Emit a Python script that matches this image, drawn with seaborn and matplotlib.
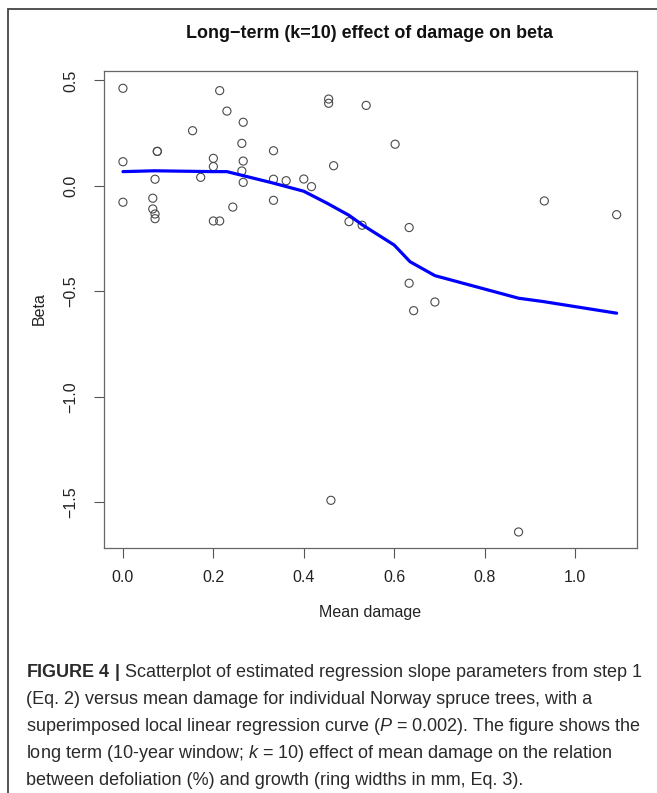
import matplotlib
matplotlib.use("Agg")
import matplotlib.pyplot as plt
import pandas as pd
import seaborn as sns
from matplotlib.patches import Rectangle

# scatter points
mean_damage = [0.000, 0.000, 0.000, 0.076, 0.076, 0.071, 0.066, 0.066, 0.071, 0.071,
               0.154, 0.172, 0.200, 0.200, 0.200, 0.214, 0.214, 0.230, 0.243, 0.266,
               0.263, 0.266, 0.263, 0.266, 0.333, 0.333, 0.361, 0.333, 0.455, 0.455,
               0.538, 0.602, 0.466, 0.400, 0.417, 0.500, 0.529, 0.633, 0.633, 0.690,
               0.643, 0.932, 1.092, 0.460, 0.875]
beta = [0.463, 0.115, -0.077, 0.164, 0.164, 0.032, -0.058, -0.109, -0.133, -0.155,
        0.262, 0.041, 0.131, 0.092, -0.166, -0.166, 0.452, 0.355, -0.100, 0.302,
        0.202, 0.118, 0.071, 0.017, 0.167, 0.032, 0.025, -0.068, 0.412, 0.392,
        0.382, 0.198, 0.096, 0.033, -0.003, -0.169, -0.186, -0.197, -0.461, -0.550,
        -0.591, -0.071, -0.136, -1.490, -1.640]

# local linear regression curve
fit_x = [0.0, 0.07, 0.20, 0.23, 0.33, 0.40, 0.45, 0.50, 0.53, 0.60, 0.635, 0.69, 0.875, 0.93, 1.092]
fit_y = [0.068, 0.072, 0.068, 0.068, 0.015, -0.025, -0.080, -0.139, -0.185, -0.280, -0.359, -0.425, -0.532, -0.548, -0.603]

xticks = [0.0, 0.2, 0.4, 0.6, 0.8, 1.0]
yticks = [0.5, 0.0, -0.5, -1.0, -1.5]

sns.set_style("white")
plt.rcParams["font.family"] = ["Liberation Sans", "DejaVu Sans"]
plt.rcParams["mathtext.fontset"] = "custom"
plt.rcParams["mathtext.rm"] = "Liberation Sans"
plt.rcParams["mathtext.it"] = "Liberation Sans:italic"
plt.rcParams["mathtext.bf"] = "Liberation Sans:bold"

W, H = 657, 793
fig = plt.figure(figsize=(W / 100, H / 100), dpi=100)
fig.patch.set_facecolor("white")
ax = fig.add_axes([103.5 / W, 1 - 548 / H, (637 - 103.5) / W, (548 - 71) / H])

pts = pd.DataFrame({"x": mean_damage, "y": beta})
fit = pd.DataFrame({"x": fit_x, "y": fit_y})
sns.scatterplot(data=pts, x="x", y="y", ax=ax, marker="o", s=34,
                facecolor="none", edgecolor="#4a4a4a", linewidth=0.8)
sns.lineplot(data=fit, x="x", y="y", ax=ax, sort=False, estimator=None,
             color="#0000ff", linewidth=2.3)

ax.set_xlim(-0.043, 1.137)
ax.set_ylim(-1.716, 0.545)
ax.set_xticks(xticks)
ax.set_xticklabels([f"{v:.1f}" for v in xticks])
ax.set_yticks(yticks)
ax.set_yticklabels([f"{v:.1f}".replace("-", "\u2212") for v in yticks],
                   rotation=90, va="center")
ax.tick_params(axis="both", length=7, width=0.8, color="#555555",
               labelsize=11.5, labelcolor="#222222", left=True, bottom=True)
ax.tick_params(axis="x", pad=9)
ax.tick_params(axis="y", pad=11)
for sp in ax.spines.values():
    sp.set_color("#666666")
    sp.set_linewidth(0.9)
ax.set_xlabel("")
ax.set_ylabel("")

fig.text(370 / W, 1 - 33 / H, "Long\u2212term (k=10) effect of damage on beta",
         ha="center", va="center", fontsize=12.9, fontweight="bold", color="#111111")
fig.text(370 / W, 1 - 613 / H, "Mean damage", ha="center", va="center",
         fontsize=11.5, color="#222222")
fig.text(39 / W, 1 - 309 / H, "Beta", ha="center", va="center", rotation=90,
         fontsize=11.5, color="#222222")

# outer frame
fig.patches.append(Rectangle((8 / W, -0.02), 1.05, 1 - 9 / H + 0.02,
                             transform=fig.transFigure, fill=False,
                             edgecolor="#444444", linewidth=1.3))

caption = [
    r"$\bf{FIGURE\ 4\ |}$ Scatterplot of estimated regression slope parameters from step 1",
    "(Eq. 2) versus mean damage for individual Norway spruce trees, with a",
    r"superimposed local linear regression curve ($P$ = 0.002). The figure shows the",
    r"long term (10-year window; $k$ = 10) effect of mean damage on the relation",
    "between defoliation (%) and growth (ring widths in mm, Eq. 3).",
]
for i, line in enumerate(caption):
    fig.text(26 / W, 1 - (677 + 27 * i) / H, line, ha="left", va="baseline",
             fontsize=13.0, color="#2a2a2a")

fig.savefig("out.png", dpi=100)
